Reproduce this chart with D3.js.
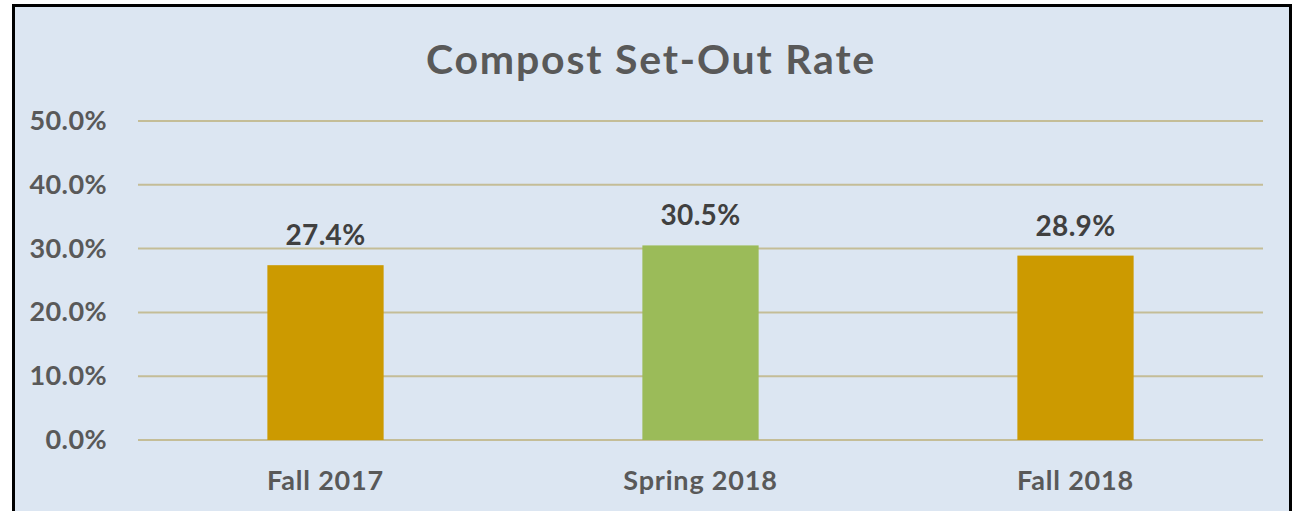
<!DOCTYPE html>
<html lang="en">

<head>
    <meta charset="utf-8">
    <title>Compost Set-Out Rate</title>
    <style>
        body {
            margin: 0;
            background: #ffffff;
        }

        text {
            font-family: Lato, "Open Sans", sans-serif;
            font-weight: bold;
        }
    </style>
</head>

<body>
    <div id="chart"></div>

    <script src="https://d3js.org/d3.v7.min.js"></script>

    <script>
        const seasons = ["Fall 2017", "Spring 2018", "Fall 2018"]
        const setOutRate = [27.4, 30.5, 28.9]
        const barColors = ["#cc9a00", "#9bbb59", "#cc9a00"]
        const yTicks = [0, 10, 20, 30, 40, 50]

        const W = 1297, H = 511

        const svg = d3.select('#chart').append('svg')
            .attr('width', W)
            .attr('height', H)

        // frame of the chart area
        svg.append('rect')
            .attr('x', 13.5).attr('y', 5.5)
            .attr('width', 1277).attr('height', 520)
            .attr('fill', '#dce6f2')
            .attr('stroke', '#000')
            .attr('stroke-width', 3)

        svg.append('text')
            .attr('x', 651).attr('y', 74)
            .attr('text-anchor', 'middle')
            .attr('fill', '#595959')
            .style('font-size', '41px')
            .style('letter-spacing', '1.8px')
            .text('Compost Set-Out Rate')

        const x = d3.scaleBand()
            .domain(seasons)
            .range([138, 1263])
            .paddingInner(0.69)
            .paddingOuter(0.345)

        const y = d3.scaleLinear()
            .domain([0, 50])
            .range([440, 121])

        // gridlines
        svg.append('g')
            .selectAll('line')
            .data(yTicks)
            .join('line')
            .attr('x1', 138).attr('x2', 1263)
            .attr('y1', d => y(d)).attr('y2', d => y(d))
            .attr('stroke', '#c4bd97')
            .attr('stroke-width', 2)

        // y tick labels
        svg.append('g')
            .selectAll('text')
            .data(yTicks)
            .join('text')
            .attr('x', 107)
            .attr('y', d => y(d) + 9)
            .attr('text-anchor', 'end')
            .attr('fill', '#595959')
            .style('font-size', '27px')
            .style('letter-spacing', '0.4px')
            .text(d => d.toFixed(1) + '%')

        svg.append('g')
            .selectAll('rect')
            .data(setOutRate)
            .join('rect')
            .attr('x', (d, i) => x(seasons[i]))
            .attr('y', d => y(d))
            .attr('width', x.bandwidth())
            .attr('height', d => y(0) - y(d))
            .attr('fill', (d, i) => barColors[i])

        // value labels
        svg.append('g')
            .selectAll('text')
            .data(setOutRate)
            .join('text')
            .attr('x', (d, i) => x(seasons[i]) + x.bandwidth() / 2)
            .attr('y', d => y(d) - 20)
            .attr('text-anchor', 'middle')
            .attr('fill', '#404040')
            .style('font-size', '28px')
            .style('letter-spacing', '0.3px')
            .text(d => d.toFixed(1) + '%')

        // category labels
        svg.append('g')
            .selectAll('text')
            .data(seasons)
            .join('text')
            .attr('x', d => x(d) + x.bandwidth() / 2)
            .attr('y', 490)
            .attr('text-anchor', 'middle')
            .attr('fill', '#595959')
            .style('font-size', '27px')
            .style('letter-spacing', '0.8px')
            .text(d => d)
    </script>
</body>

</html>
